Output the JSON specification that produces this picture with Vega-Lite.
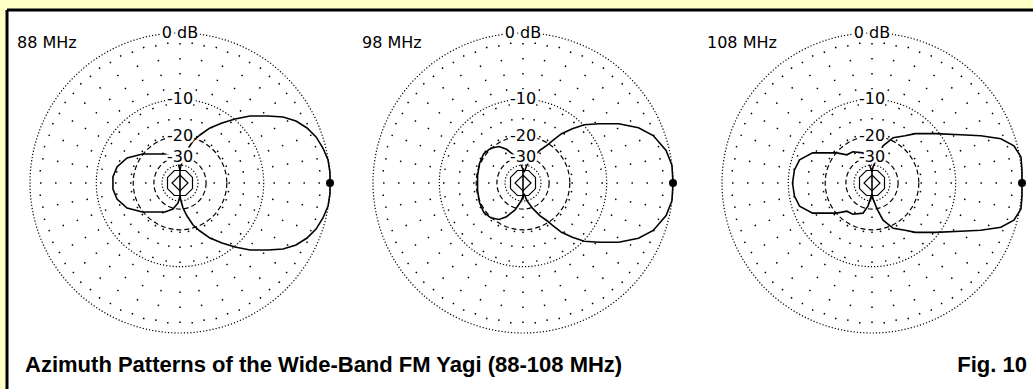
{
  "$schema": "https://vega.github.io/schema/vega-lite/v6.json",
  "width": 1026,
  "height": 379,
  "padding": {"left": 7, "top": 10, "right": 0, "bottom": 0},
  "autosize": {"type": "none"},
  "background": "#FFFFC8",
  "config": {"view": {"fill": "white", "stroke": null}, "axis": {"disable": true}, "font": "DejaVu Sans"},
  "datasets": {
    "rings": [
      {"r": 1, "st": "dot"}, {"r": 0.558, "st": "dot"}, {"r": 0.312, "st": "dash"}, {"r": 0.174, "st": "dash"}, {"r": 0.12, "st": "dot"}
    ],
    "spokes": [
      {"a": 0, "k": "a"}, {"a": 5, "k": "c"}, {"a": 10, "k": "b"}, {"a": 15, "k": "c"}, {"a": 20, "k": "b"}, {"a": 25, "k": "c"},
      {"a": 30, "k": "a"}, {"a": 35, "k": "c"}, {"a": 40, "k": "b"}, {"a": 45, "k": "c"}, {"a": 50, "k": "b"}, {"a": 55, "k": "c"},
      {"a": 60, "k": "a"}, {"a": 65, "k": "c"}, {"a": 70, "k": "b"}, {"a": 75, "k": "c"}, {"a": 80, "k": "b"}, {"a": 85, "k": "c"},
      {"a": 90, "k": "a"}, {"a": 95, "k": "c"}, {"a": 100, "k": "b"}, {"a": 105, "k": "c"}, {"a": 110, "k": "b"}, {"a": 115, "k": "c"},
      {"a": 120, "k": "a"}, {"a": 125, "k": "c"}, {"a": 130, "k": "b"}, {"a": 135, "k": "c"}, {"a": 140, "k": "b"}, {"a": 145, "k": "c"},
      {"a": 150, "k": "a"}, {"a": 155, "k": "c"}, {"a": 160, "k": "b"}, {"a": 165, "k": "c"}, {"a": 170, "k": "b"}, {"a": 175, "k": "c"},
      {"a": 180, "k": "a"}, {"a": 185, "k": "c"}, {"a": 190, "k": "b"}, {"a": 195, "k": "c"}, {"a": 200, "k": "b"}, {"a": 205, "k": "c"},
      {"a": 210, "k": "a"}, {"a": 215, "k": "c"}, {"a": 220, "k": "b"}, {"a": 225, "k": "c"}, {"a": 230, "k": "b"}, {"a": 235, "k": "c"},
      {"a": 240, "k": "a"}, {"a": 245, "k": "c"}, {"a": 250, "k": "b"}, {"a": 255, "k": "c"}, {"a": 260, "k": "b"}, {"a": 265, "k": "c"},
      {"a": 270, "k": "a"}, {"a": 275, "k": "c"}, {"a": 280, "k": "b"}, {"a": 285, "k": "c"}, {"a": 290, "k": "b"}, {"a": 295, "k": "c"},
      {"a": 300, "k": "a"}, {"a": 305, "k": "c"}, {"a": 310, "k": "b"}, {"a": 315, "k": "c"}, {"a": 320, "k": "b"}, {"a": 325, "k": "c"},
      {"a": 330, "k": "a"}, {"a": 335, "k": "c"}, {"a": 340, "k": "b"}, {"a": 345, "k": "c"}, {"a": 350, "k": "b"}, {"a": 355, "k": "c"}
    ],
    "dblabels": [
      {"t": "0 dB", "y": 1}, {"t": "-10", "y": 0.558}, {"t": "-20", "y": 0.312}, {"t": "-30", "y": 0.174}
    ],
    "p88": [
      {"seg": "f", "i": 0, "x": 0, "y": 0.087}, {"seg": "f", "i": 1, "x": 0.007, "y": 0.12}, {"seg": "f", "i": 2, "x": 0.02, "y": 0.167},
      {"seg": "f", "i": 3, "x": 0.047, "y": 0.22}, {"seg": "f", "i": 4, "x": 0.087, "y": 0.28}, {"seg": "f", "i": 5, "x": 0.133, "y": 0.32},
      {"seg": "f", "i": 6, "x": 0.2, "y": 0.367}, {"seg": "f", "i": 7, "x": 0.28, "y": 0.4}, {"seg": "f", "i": 8, "x": 0.367, "y": 0.427},
      {"seg": "f", "i": 9, "x": 0.467, "y": 0.447}, {"seg": "f", "i": 10, "x": 0.587, "y": 0.447}, {"seg": "f", "i": 11, "x": 0.687, "y": 0.44},
      {"seg": "f", "i": 12, "x": 0.773, "y": 0.413}, {"seg": "f", "i": 13, "x": 0.847, "y": 0.367}, {"seg": "f", "i": 14, "x": 0.907, "y": 0.307},
      {"seg": "f", "i": 15, "x": 0.953, "y": 0.233}, {"seg": "f", "i": 16, "x": 0.987, "y": 0.153}, {"seg": "f", "i": 17, "x": 1.0, "y": 0.073},
      {"seg": "f", "i": 18, "x": 1.0, "y": 0}, {"seg": "f", "i": 19, "x": 1.0, "y": -0.073}, {"seg": "f", "i": 20, "x": 0.987, "y": -0.153},
      {"seg": "f", "i": 21, "x": 0.953, "y": -0.233}, {"seg": "f", "i": 22, "x": 0.907, "y": -0.307}, {"seg": "f", "i": 23, "x": 0.847, "y": -0.367},
      {"seg": "f", "i": 24, "x": 0.773, "y": -0.413}, {"seg": "f", "i": 25, "x": 0.687, "y": -0.44}, {"seg": "f", "i": 26, "x": 0.587, "y": -0.447},
      {"seg": "f", "i": 27, "x": 0.467, "y": -0.447}, {"seg": "f", "i": 28, "x": 0.367, "y": -0.427}, {"seg": "f", "i": 29, "x": 0.28, "y": -0.4},
      {"seg": "f", "i": 30, "x": 0.2, "y": -0.367}, {"seg": "f", "i": 31, "x": 0.133, "y": -0.32}, {"seg": "f", "i": 32, "x": 0.087, "y": -0.28},
      {"seg": "f", "i": 33, "x": 0.047, "y": -0.22}, {"seg": "f", "i": 34, "x": 0.02, "y": -0.167}, {"seg": "f", "i": 35, "x": 0.007, "y": -0.12},
      {"seg": "f", "i": 36, "x": 0, "y": -0.087},
      {"seg": "b", "i": 0, "x": 0, "y": 0.087}, {"seg": "b", "i": 1, "x": -0.013, "y": 0.133}, {"seg": "b", "i": 2, "x": -0.047, "y": 0.173},
      {"seg": "b", "i": 3, "x": -0.1, "y": 0.193}, {"seg": "b", "i": 4, "x": -0.25, "y": 0.193}, {"seg": "b", "i": 5, "x": -0.353, "y": 0.167},
      {"seg": "b", "i": 6, "x": -0.42, "y": 0.107}, {"seg": "b", "i": 7, "x": -0.447, "y": 0.04}, {"seg": "b", "i": 8, "x": -0.447, "y": -0.04},
      {"seg": "b", "i": 9, "x": -0.42, "y": -0.107}, {"seg": "b", "i": 10, "x": -0.353, "y": -0.167}, {"seg": "b", "i": 11, "x": -0.25, "y": -0.193},
      {"seg": "b", "i": 12, "x": -0.1, "y": -0.193}, {"seg": "b", "i": 13, "x": -0.047, "y": -0.173}, {"seg": "b", "i": 14, "x": -0.013, "y": -0.133},
      {"seg": "b", "i": 15, "x": 0, "y": -0.087},
      {"seg": "v", "i": 0, "x": 0, "y": 0.1}, {"seg": "v", "i": 1, "x": 0, "y": -0.11}
    ],
    "p98": [
      {"seg": "f", "i": 0, "x": 0.007, "y": 0.072}, {"seg": "f", "i": 1, "x": 0.026, "y": 0.118}, {"seg": "f", "i": 2, "x": 0.066, "y": 0.171},
      {"seg": "f", "i": 3, "x": 0.112, "y": 0.217}, {"seg": "f", "i": 4, "x": 0.158, "y": 0.25}, {"seg": "f", "i": 5, "x": 0.197, "y": 0.283},
      {"seg": "f", "i": 6, "x": 0.257, "y": 0.329}, {"seg": "f", "i": 7, "x": 0.329, "y": 0.362}, {"seg": "f", "i": 8, "x": 0.408, "y": 0.388},
      {"seg": "f", "i": 9, "x": 0.507, "y": 0.395}, {"seg": "f", "i": 10, "x": 0.638, "y": 0.395}, {"seg": "f", "i": 11, "x": 0.77, "y": 0.368},
      {"seg": "f", "i": 12, "x": 0.868, "y": 0.316}, {"seg": "f", "i": 13, "x": 0.954, "y": 0.217}, {"seg": "f", "i": 14, "x": 0.993, "y": 0.118},
      {"seg": "f", "i": 15, "x": 1.0, "y": 0}, {"seg": "f", "i": 16, "x": 0.993, "y": -0.118}, {"seg": "f", "i": 17, "x": 0.954, "y": -0.217},
      {"seg": "f", "i": 18, "x": 0.868, "y": -0.316}, {"seg": "f", "i": 19, "x": 0.77, "y": -0.368}, {"seg": "f", "i": 20, "x": 0.638, "y": -0.395},
      {"seg": "f", "i": 21, "x": 0.507, "y": -0.395}, {"seg": "f", "i": 22, "x": 0.408, "y": -0.388}, {"seg": "f", "i": 23, "x": 0.329, "y": -0.362},
      {"seg": "f", "i": 24, "x": 0.257, "y": -0.329}, {"seg": "f", "i": 25, "x": 0.197, "y": -0.283}, {"seg": "f", "i": 26, "x": 0.158, "y": -0.25},
      {"seg": "f", "i": 27, "x": 0.112, "y": -0.217}, {"seg": "f", "i": 28, "x": 0.066, "y": -0.171}, {"seg": "f", "i": 29, "x": 0.026, "y": -0.118},
      {"seg": "f", "i": 30, "x": 0.007, "y": -0.072},
      {"seg": "b", "i": 0, "x": 0.007, "y": 0.072}, {"seg": "b", "i": 1, "x": -0.013, "y": 0.12}, {"seg": "b", "i": 2, "x": -0.053, "y": 0.18},
      {"seg": "b", "i": 3, "x": -0.11, "y": 0.225}, {"seg": "b", "i": 4, "x": -0.16, "y": 0.243}, {"seg": "b", "i": 5, "x": -0.215, "y": 0.232},
      {"seg": "b", "i": 6, "x": -0.262, "y": 0.195}, {"seg": "b", "i": 7, "x": -0.29, "y": 0.13}, {"seg": "b", "i": 8, "x": -0.303, "y": 0.05},
      {"seg": "b", "i": 9, "x": -0.303, "y": -0.05}, {"seg": "b", "i": 10, "x": -0.29, "y": -0.13}, {"seg": "b", "i": 11, "x": -0.262, "y": -0.195},
      {"seg": "b", "i": 12, "x": -0.215, "y": -0.232}, {"seg": "b", "i": 13, "x": -0.16, "y": -0.243}, {"seg": "b", "i": 14, "x": -0.11, "y": -0.225},
      {"seg": "b", "i": 15, "x": -0.053, "y": -0.18}, {"seg": "b", "i": 16, "x": -0.013, "y": -0.12}, {"seg": "b", "i": 17, "x": 0.007, "y": -0.072},
      {"seg": "v", "i": 0, "x": 0, "y": 0.1}, {"seg": "v", "i": 1, "x": 0, "y": -0.11}
    ],
    "p108": [
      {"seg": "f", "i": 0, "x": 0, "y": 0.074}, {"seg": "f", "i": 1, "x": 0.007, "y": 0.107}, {"seg": "f", "i": 2, "x": 0.034, "y": 0.174},
      {"seg": "f", "i": 3, "x": 0.074, "y": 0.248}, {"seg": "f", "i": 4, "x": 0.141, "y": 0.302}, {"seg": "f", "i": 5, "x": 0.221, "y": 0.315},
      {"seg": "f", "i": 6, "x": 0.289, "y": 0.329}, {"seg": "f", "i": 7, "x": 0.423, "y": 0.329}, {"seg": "f", "i": 8, "x": 0.59, "y": 0.322},
      {"seg": "f", "i": 9, "x": 0.725, "y": 0.315}, {"seg": "f", "i": 10, "x": 0.859, "y": 0.295}, {"seg": "f", "i": 11, "x": 0.946, "y": 0.248},
      {"seg": "f", "i": 12, "x": 0.993, "y": 0.174}, {"seg": "f", "i": 13, "x": 1.0, "y": 0.087}, {"seg": "f", "i": 14, "x": 1.0, "y": 0},
      {"seg": "f", "i": 15, "x": 1.0, "y": -0.087}, {"seg": "f", "i": 16, "x": 0.993, "y": -0.174}, {"seg": "f", "i": 17, "x": 0.946, "y": -0.248},
      {"seg": "f", "i": 18, "x": 0.859, "y": -0.295}, {"seg": "f", "i": 19, "x": 0.725, "y": -0.315}, {"seg": "f", "i": 20, "x": 0.59, "y": -0.322},
      {"seg": "f", "i": 21, "x": 0.423, "y": -0.329}, {"seg": "f", "i": 22, "x": 0.289, "y": -0.329}, {"seg": "f", "i": 23, "x": 0.221, "y": -0.315},
      {"seg": "f", "i": 24, "x": 0.141, "y": -0.302}, {"seg": "f", "i": 25, "x": 0.074, "y": -0.248}, {"seg": "f", "i": 26, "x": 0.034, "y": -0.174},
      {"seg": "f", "i": 27, "x": 0.007, "y": -0.107}, {"seg": "f", "i": 28, "x": 0, "y": -0.074},
      {"seg": "b", "i": 0, "x": 0, "y": 0.074}, {"seg": "b", "i": 1, "x": -0.027, "y": 0.154}, {"seg": "b", "i": 2, "x": -0.06, "y": 0.201},
      {"seg": "b", "i": 3, "x": -0.128, "y": 0.208}, {"seg": "b", "i": 4, "x": -0.168, "y": 0.188}, {"seg": "b", "i": 5, "x": -0.235, "y": 0.201},
      {"seg": "b", "i": 6, "x": -0.396, "y": 0.201}, {"seg": "b", "i": 7, "x": -0.483, "y": 0.154}, {"seg": "b", "i": 8, "x": -0.517, "y": 0.087},
      {"seg": "b", "i": 9, "x": -0.53, "y": 0}, {"seg": "b", "i": 10, "x": -0.517, "y": -0.087}, {"seg": "b", "i": 11, "x": -0.483, "y": -0.154},
      {"seg": "b", "i": 12, "x": -0.396, "y": -0.201}, {"seg": "b", "i": 13, "x": -0.235, "y": -0.201}, {"seg": "b", "i": 14, "x": -0.168, "y": -0.188},
      {"seg": "b", "i": 15, "x": -0.128, "y": -0.208}, {"seg": "b", "i": 16, "x": -0.06, "y": -0.201}, {"seg": "b", "i": 17, "x": -0.027, "y": -0.154},
      {"seg": "b", "i": 18, "x": 0, "y": -0.074},
      {"seg": "v", "i": 0, "x": 0, "y": 0.1}, {"seg": "v", "i": 1, "x": 0, "y": -0.11}
    ]
  },
  "layer": [
    {
      "layer": [
        {"data": {"name": "rings"}, "mark": {"type": "point", "shape": "circle", "filled": false, "stroke": "black", "strokeWidth": 1.2, "opacity": 1},
         "encoding": {
           "x": {"datum": 0, "type": "quantitative", "scale": {"domain": [-1.15333, 5.68667], "nice": false, "zero": false}, "axis": null},
           "y": {"datum": 0, "type": "quantitative", "scale": {"domain": [-1.37333, 1.15333], "nice": false, "zero": false}, "axis": null},
           "size": {"field": "r", "type": "quantitative", "scale": {"type": "pow", "exponent": 2, "domain": [0, 1], "range": [0, 90000]}, "legend": null},
           "strokeDash": {"field": "st", "type": "nominal", "scale": {"domain": ["dot", "dash"], "range": [[1.2, 2], [5, 3]]}, "legend": null}}},
        {"data": {"name": "spokes"}, "mark": {"type": "point", "filled": false, "stroke": "black", "strokeWidth": 1.5, "strokeDash": [1.5, 13.5], "opacity": 1, "size": 90000},
         "encoding": {"x": {"datum": 0, "type": "quantitative"}, "y": {"datum": 0, "type": "quantitative"}, "angle": {"field": "a", "type": "quantitative", "scale": null},
           "shape": {"field": "k", "type": "nominal", "scale": {"domain": ["a", "b", "c"], "range": ["M0.933,0L0.2,0", "M0.933,0L0.3,0", "M0.94,0L0.92,0"]}, "legend": null}}},
        {"data": {"values": [{}]}, "mark": {"type": "point", "shape": "M-0.45,-1L0.45,-1L1,-0.45L1,0.45L0.45,1L-0.45,1L-1,0.45L-1,-0.45Z", "filled": false, "stroke": "black", "strokeWidth": 1.2, "opacity": 1, "size": 625},
         "encoding": {"x": {"datum": 0, "type": "quantitative"}, "y": {"datum": 0, "type": "quantitative"}}},
        {"data": {"values": [{}]}, "mark": {"type": "point", "shape": "M0,-1L1,0L0,1L-1,0Z", "filled": false, "stroke": "black", "strokeWidth": 1.2, "opacity": 1, "size": 256},
         "encoding": {"x": {"datum": 0, "type": "quantitative"}, "y": {"datum": 0, "type": "quantitative"}}},
        {"data": {"name": "p88"}, "mark": {"type": "line", "color": "black", "strokeWidth": 1.6},
         "encoding": {"x": {"field": "x", "type": "quantitative"}, "y": {"field": "y", "type": "quantitative"}, "detail": {"field": "seg"}, "order": {"field": "i", "type": "quantitative"}}},
        {"data": {"values": [{}]}, "mark": {"type": "point", "filled": true, "color": "black", "size": 64, "opacity": 1},
         "encoding": {"x": {"datum": 1, "type": "quantitative"}, "y": {"datum": 0, "type": "quantitative"}}},
        {"data": {"name": "dblabels"}, "mark": {"type": "text", "fontSize": 16, "stroke": "white", "strokeWidth": 5, "align": "center", "baseline": "middle"},
         "encoding": {"x": {"datum": 0, "type": "quantitative"}, "y": {"field": "y", "type": "quantitative"}, "text": {"field": "t"}}},
        {"data": {"name": "dblabels"}, "mark": {"type": "text", "fontSize": 16, "color": "black", "align": "center", "baseline": "middle"},
         "encoding": {"x": {"datum": 0, "type": "quantitative"}, "y": {"field": "y", "type": "quantitative"}, "text": {"field": "t"}}},
        {"data": {"values": [{"t": "88 MHz"}]}, "mark": {"type": "text", "fontSize": 16, "color": "black", "align": "left", "baseline": "middle"},
         "encoding": {"x": {"datum": -1.087, "type": "quantitative"}, "y": {"datum": 0.933, "type": "quantitative"}, "text": {"field": "t"}}},
        {"data": {"values": [{"t": "Azimuth Patterns of the Wide-Band FM Yagi (88-108 MHz)"}]}, "mark": {"type": "text", "font": "Liberation Sans", "fontSize": 22, "fontWeight": "bold", "color": "black", "align": "left", "baseline": "alphabetic"},
         "encoding": {"x": {"datum": -1.033, "type": "quantitative"}, "y": {"datum": -1.26, "type": "quantitative"}, "text": {"field": "t"}}}
      ]
    },
    {
      "layer": [
        {"data": {"name": "rings"}, "mark": {"type": "point", "shape": "circle", "filled": false, "stroke": "black", "strokeWidth": 1.2, "opacity": 1},
         "encoding": {
           "x": {"datum": 0, "type": "quantitative", "scale": {"domain": [-3.44, 3.4], "nice": false, "zero": false}, "axis": null},
           "y": {"datum": 0, "type": "quantitative"},
           "size": {"field": "r", "type": "quantitative", "scale": {"type": "pow", "exponent": 2, "domain": [0, 1], "range": [0, 90000]}, "legend": null},
           "strokeDash": {"field": "st", "type": "nominal", "scale": {"domain": ["dot", "dash"], "range": [[1.2, 2], [5, 3]]}, "legend": null}}},
        {"data": {"name": "spokes"}, "mark": {"type": "point", "filled": false, "stroke": "black", "strokeWidth": 1.5, "strokeDash": [1.5, 13.5], "opacity": 1, "size": 90000},
         "encoding": {"x": {"datum": 0, "type": "quantitative"}, "y": {"datum": 0, "type": "quantitative"}, "angle": {"field": "a", "type": "quantitative", "scale": null},
           "shape": {"field": "k", "type": "nominal", "scale": {"domain": ["a", "b", "c"], "range": ["M0.933,0L0.2,0", "M0.933,0L0.3,0", "M0.94,0L0.92,0"]}, "legend": null}}},
        {"data": {"values": [{}]}, "mark": {"type": "point", "shape": "M-0.45,-1L0.45,-1L1,-0.45L1,0.45L0.45,1L-0.45,1L-1,0.45L-1,-0.45Z", "filled": false, "stroke": "black", "strokeWidth": 1.2, "opacity": 1, "size": 625},
         "encoding": {"x": {"datum": 0, "type": "quantitative"}, "y": {"datum": 0, "type": "quantitative"}}},
        {"data": {"values": [{}]}, "mark": {"type": "point", "shape": "M0,-1L1,0L0,1L-1,0Z", "filled": false, "stroke": "black", "strokeWidth": 1.2, "opacity": 1, "size": 256},
         "encoding": {"x": {"datum": 0, "type": "quantitative"}, "y": {"datum": 0, "type": "quantitative"}}},
        {"data": {"name": "p98"}, "mark": {"type": "line", "color": "black", "strokeWidth": 1.6},
         "encoding": {"x": {"field": "x", "type": "quantitative"}, "y": {"field": "y", "type": "quantitative"}, "detail": {"field": "seg"}, "order": {"field": "i", "type": "quantitative"}}},
        {"data": {"values": [{}]}, "mark": {"type": "point", "filled": true, "color": "black", "size": 64, "opacity": 1},
         "encoding": {"x": {"datum": 1, "type": "quantitative"}, "y": {"datum": 0, "type": "quantitative"}}},
        {"data": {"name": "dblabels"}, "mark": {"type": "text", "fontSize": 16, "stroke": "white", "strokeWidth": 5, "align": "center", "baseline": "middle"},
         "encoding": {"x": {"datum": 0, "type": "quantitative"}, "y": {"field": "y", "type": "quantitative"}, "text": {"field": "t"}}},
        {"data": {"name": "dblabels"}, "mark": {"type": "text", "fontSize": 16, "color": "black", "align": "center", "baseline": "middle"},
         "encoding": {"x": {"datum": 0, "type": "quantitative"}, "y": {"field": "y", "type": "quantitative"}, "text": {"field": "t"}}},
        {"data": {"values": [{"t": "98 MHz"}]}, "mark": {"type": "text", "fontSize": 16, "color": "black", "align": "left", "baseline": "middle"},
         "encoding": {"x": {"datum": -1.073, "type": "quantitative"}, "y": {"datum": 0.933, "type": "quantitative"}, "text": {"field": "t"}}}
      ]
    },
    {
      "layer": [
        {"data": {"name": "rings"}, "mark": {"type": "point", "shape": "circle", "filled": false, "stroke": "black", "strokeWidth": 1.2, "opacity": 1},
         "encoding": {
           "x": {"datum": 0, "type": "quantitative", "scale": {"domain": [-5.76667, 1.07333], "nice": false, "zero": false}, "axis": null},
           "y": {"datum": 0, "type": "quantitative"},
           "size": {"field": "r", "type": "quantitative", "scale": {"type": "pow", "exponent": 2, "domain": [0, 1], "range": [0, 90000]}, "legend": null},
           "strokeDash": {"field": "st", "type": "nominal", "scale": {"domain": ["dot", "dash"], "range": [[1.2, 2], [5, 3]]}, "legend": null}}},
        {"data": {"name": "spokes"}, "mark": {"type": "point", "filled": false, "stroke": "black", "strokeWidth": 1.5, "strokeDash": [1.5, 13.5], "opacity": 1, "size": 90000},
         "encoding": {"x": {"datum": 0, "type": "quantitative"}, "y": {"datum": 0, "type": "quantitative"}, "angle": {"field": "a", "type": "quantitative", "scale": null},
           "shape": {"field": "k", "type": "nominal", "scale": {"domain": ["a", "b", "c"], "range": ["M0.933,0L0.2,0", "M0.933,0L0.3,0", "M0.94,0L0.92,0"]}, "legend": null}}},
        {"data": {"values": [{}]}, "mark": {"type": "point", "shape": "M-0.45,-1L0.45,-1L1,-0.45L1,0.45L0.45,1L-0.45,1L-1,0.45L-1,-0.45Z", "filled": false, "stroke": "black", "strokeWidth": 1.2, "opacity": 1, "size": 625},
         "encoding": {"x": {"datum": 0, "type": "quantitative"}, "y": {"datum": 0, "type": "quantitative"}}},
        {"data": {"values": [{}]}, "mark": {"type": "point", "shape": "M0,-1L1,0L0,1L-1,0Z", "filled": false, "stroke": "black", "strokeWidth": 1.2, "opacity": 1, "size": 256},
         "encoding": {"x": {"datum": 0, "type": "quantitative"}, "y": {"datum": 0, "type": "quantitative"}}},
        {"data": {"name": "p108"}, "mark": {"type": "line", "color": "black", "strokeWidth": 1.6},
         "encoding": {"x": {"field": "x", "type": "quantitative"}, "y": {"field": "y", "type": "quantitative"}, "detail": {"field": "seg"}, "order": {"field": "i", "type": "quantitative"}}},
        {"data": {"values": [{}]}, "mark": {"type": "point", "filled": true, "color": "black", "size": 64, "opacity": 1},
         "encoding": {"x": {"datum": 1, "type": "quantitative"}, "y": {"datum": 0, "type": "quantitative"}}},
        {"data": {"name": "dblabels"}, "mark": {"type": "text", "fontSize": 16, "stroke": "white", "strokeWidth": 5, "align": "center", "baseline": "middle"},
         "encoding": {"x": {"datum": 0, "type": "quantitative"}, "y": {"field": "y", "type": "quantitative"}, "text": {"field": "t"}}},
        {"data": {"name": "dblabels"}, "mark": {"type": "text", "fontSize": 16, "color": "black", "align": "center", "baseline": "middle"},
         "encoding": {"x": {"datum": 0, "type": "quantitative"}, "y": {"field": "y", "type": "quantitative"}, "text": {"field": "t"}}},
        {"data": {"values": [{"t": "108 MHz"}]}, "mark": {"type": "text", "fontSize": 16, "color": "black", "align": "left", "baseline": "middle"},
         "encoding": {"x": {"datum": -1.1, "type": "quantitative"}, "y": {"datum": 0.933, "type": "quantitative"}, "text": {"field": "t"}}},
        {"data": {"values": [{"t": "Fig. 10"}]}, "mark": {"type": "text", "font": "Liberation Sans", "fontSize": 22, "fontWeight": "bold", "color": "black", "align": "right", "baseline": "alphabetic"},
         "encoding": {"x": {"datum": 1.033, "type": "quantitative"}, "y": {"datum": -1.26, "type": "quantitative"}, "text": {"field": "t"}}}
      ]
    },
    {
      "layer": [
        {"data": {"values": [{}]}, "mark": {"type": "rule", "color": "black", "strokeWidth": 3},
         "encoding": {"y": {"datum": 1.15333, "type": "quantitative"}}},
        {"data": {"values": [{}]}, "mark": {"type": "rule", "color": "black", "strokeWidth": 3},
         "encoding": {"x": {"datum": 0, "type": "quantitative", "scale": {"domain": [0, 1], "nice": false, "zero": false}, "axis": null}}}
      ]
    }
  ],
  "resolve": {"scale": {"x": "independent"}}
}
